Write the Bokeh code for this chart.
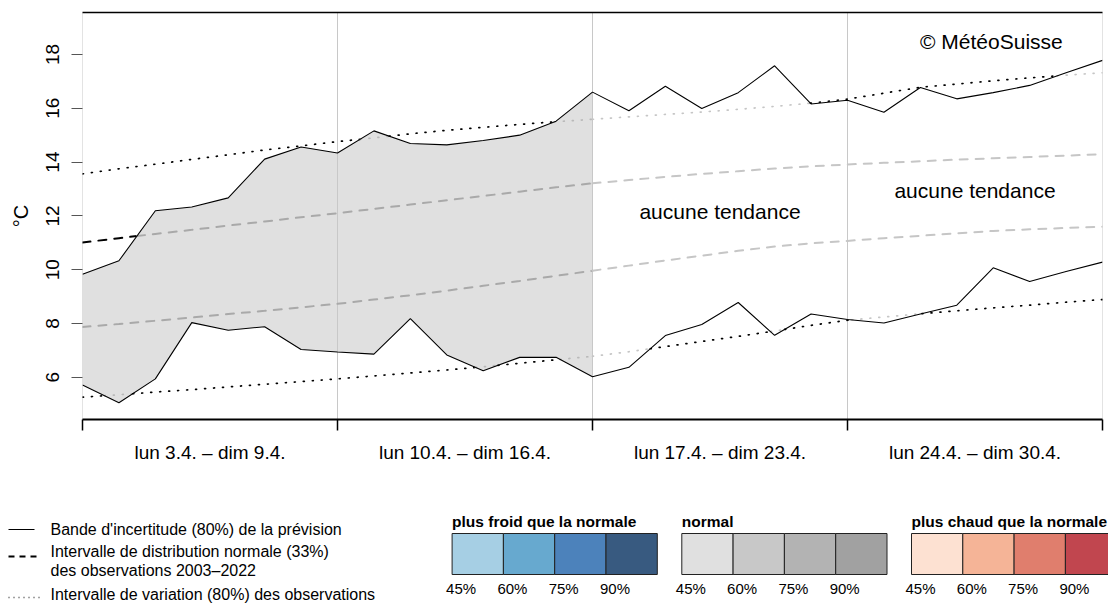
from bokeh.plotting import figure
from bokeh.models import Range1d, FixedTicker, LinearAxis
from bokeh.core.properties import value
from bokeh.embed import file_html
from bokeh.resources import INLINE

FONT = "Liberation Sans"

# ---------------- data ----------------
days = list(range(29))  # 0 = lun 3.4. ... 28 = lun 1.5.
week_labels = ["lun 3.4. – dim 9.4.", "lun 10.4. – dim 16.4.",
               "lun 17.4. – dim 23.4.", "lun 24.4. – dim 30.4."]
y_ticks = [6, 8, 10, 12, 14, 16, 18]

# forecast uncertainty band (80%)
fc_upper = [9.83, 10.33, 12.19, 12.33, 12.67, 14.11, 14.56, 14.34, 15.16, 14.69,
            14.64, 14.80, 15.00, 15.52, 16.60, 15.91, 16.82, 15.99, 16.58, 17.58,
            16.16, 16.30, 15.85, 16.77, 16.35, 16.58, 16.85, 17.32, 17.78]
fc_lower = [5.71, 5.05, 5.94, 8.03, 7.75, 7.88, 7.03, 6.94, 6.86, 8.18,
            6.83, 6.24, 6.74, 6.74, 6.02, 6.37, 7.55, 7.96, 8.78, 7.56,
            8.35, 8.15, 8.02, 8.35, 8.68, 10.07, 9.56, 9.93, 10.28]
# observations 2003-2022: normal range (33%) and variation range (80%)
obs_q67 = [11.01, 11.17, 11.33, 11.48, 11.64, 11.79, 11.95, 12.10, 12.26, 12.42,
           12.58, 12.74, 12.90, 13.06, 13.21, 13.33, 13.45, 13.56, 13.66, 13.76,
           13.84, 13.91, 13.97, 14.03, 14.09, 14.14, 14.19, 14.24, 14.29]
obs_q33 = [7.87, 7.98, 8.10, 8.22, 8.35, 8.47, 8.60, 8.73, 8.89, 9.05,
           9.22, 9.40, 9.58, 9.77, 9.96, 10.15, 10.34, 10.52, 10.70, 10.86,
           10.98, 11.07, 11.17, 11.26, 11.35, 11.44, 11.50, 11.55, 11.60]
obs_q90 = [13.56, 13.75, 13.92, 14.10, 14.27, 14.45, 14.60, 14.76, 14.90, 15.05,
           15.18, 15.29, 15.40, 15.50, 15.59, 15.68, 15.77, 15.86, 15.96, 16.07,
           16.19, 16.34, 16.56, 16.78, 16.90, 17.02, 17.13, 17.23, 17.32]
obs_q10 = [5.26, 5.35, 5.45, 5.54, 5.64, 5.74, 5.84, 5.94, 6.05, 6.16,
           6.27, 6.39, 6.52, 6.65, 6.78, 6.95, 7.14, 7.33, 7.52, 7.72,
           7.93, 8.12, 8.24, 8.36, 8.47, 8.58, 8.68, 8.79, 8.89]
shaded_weeks = 2
tendency_weeks = [2, 3]
tendency_text = "aucune tendance"

legend_titles = ["plus froid que la normale", "normal", "plus chaud que la normale"]
legend_colors = [["#a6cfe4", "#67a9cf", "#4c82bb", "#385a80"],
                 ["#e0e0e0", "#c8c8c8", "#b3b3b3", "#a1a1a1"],
                 ["#fde1d2", "#f5b497", "#e07e6d", "#c1464f"]]
pct_labels = ["45%", "60%", "75%", "90%"]

# ---------------- main chart ----------------
week_starts = days[::7]
week_mid = [(a + b) / 2 for a, b in zip(week_starts[:-1], week_starts[1:])]
shade_end = week_starts[shaded_weeks]

p = figure(width=1108, height=480, x_range=Range1d(0, 28), y_range=Range1d(4.43, 19.56),
           output_backend="svg", toolbar_location=None,
           min_border_left=82, min_border_right=6, min_border_top=12, min_border_bottom=61)
p.outline_line_color = None
p.xgrid.visible = False
p.ygrid.visible = False

p.varea(x=days[:shade_end + 1], y1=fc_lower[:shade_end + 1], y2=fc_upper[:shade_end + 1],
        fill_color="#e0e0e0")
p.vspan(x=week_starts, line_color="#c8c8c8", line_width=1)


def split_curve(c, up, lo):
    """split the polyline c into runs outside / inside the forecast band"""
    runs = []
    for i in range(len(days) - 1):
        ts = [0.0, 1.0]
        for b in (up, lo):
            d0, d1 = c[i] - b[i], c[i + 1] - b[i + 1]
            if d0 * d1 < 0:
                ts.append(d0 / (d0 - d1))
        ts.sort()
        for a, e in zip(ts[:-1], ts[1:]):
            if e - a < 1e-9:
                continue
            tm = (a + e) / 2
            cm = c[i] + (c[i + 1] - c[i]) * tm
            um = up[i] + (up[i + 1] - up[i]) * tm
            lm = lo[i] + (lo[i + 1] - lo[i]) * tm
            xm = days[i] + tm
            if lm < cm < um:
                cls = "in_shaded" if xm < shade_end else "in_plain"
            else:
                cls = "out"
            xa, xe = days[i] + a, days[i] + e
            ya = c[i] + (c[i + 1] - c[i]) * a
            ye = c[i] + (c[i + 1] - c[i]) * e
            if runs and runs[-1][0] == cls:
                runs[-1][1].append(xe)
                runs[-1][2].append(ye)
            else:
                runs.append([cls, [xa, xe], [ya, ye]])
    return runs


styles = {
    "dashed": dict(dash="8 8", width=2.0,
                   colors={"out": "black", "in_shaded": "#a9a9a9", "in_plain": "#c6c6c6"}),
    "dotted": dict(dash="1 8", width=1.7,
                   colors={"out": "black", "in_shaded": "#b9b9b9", "in_plain": "#c6c6c6"}),
}
for curve, kind in [(obs_q67, "dashed"), (obs_q33, "dashed"),
                    (obs_q90, "dotted"), (obs_q10, "dotted")]:
    st = styles[kind]
    for cls, xs, ys in split_curve(curve, fc_upper, fc_lower):
        p.line(xs, ys, line_color=st["colors"][cls], line_width=st["width"],
               line_dash=st["dash"], line_cap="round")

p.line(days, fc_upper, line_color="black", line_width=1.1)
p.line(days, fc_lower, line_color="black", line_width=1.1)

tx = [week_mid[w] for w in tendency_weeks]
p.text(x=tx, y=[12.15, 12.95], text=[tendency_text] * len(tx),
       text_font=value(FONT), text_font_size="21px", text_align="center",
       text_baseline="middle", text_color="black")
p.text(x=[24.95], y=[18.5], text=["© MétéoSuisse"], text_font=value(FONT),
       text_font_size="21px", text_align="center", text_baseline="middle",
       text_color="black")

# x axis: labels in the middle of weeks, ticks at week boundaries
xa = p.xaxis[0]
xa.ticker = FixedTicker(ticks=week_mid, minor_ticks=week_starts)
xa.major_label_overrides = {m: lab for m, lab in zip(week_mid, week_labels)}
xa.major_tick_out = 0
xa.major_tick_in = 0
xa.minor_tick_out = 11
xa.minor_tick_in = 0
xa.minor_tick_line_color = "black"
xa.minor_tick_line_width = 1.5
xa.axis_line_width = 2
xa.axis_line_color = "black"
xa.major_label_text_font = FONT
xa.major_label_text_font_size = "19px"
xa.major_label_text_color = "black"
xa.major_label_standoff = 11

ya = p.yaxis[0]
ya.ticker = FixedTicker(ticks=y_ticks)
ya.major_tick_out = 11
ya.major_tick_in = 0
ya.minor_tick_out = 0
ya.minor_tick_in = 0
ya.axis_line_color = None
ya.major_tick_line_color = "#555555"
ya.major_label_orientation = "vertical"
ya.major_label_text_font = FONT
ya.major_label_text_font_size = "19px"
ya.major_label_text_color = "black"
ya.major_label_standoff = 12
ya.axis_label = "°C"
ya.axis_label_text_font = FONT
ya.axis_label_text_font_size = "20px"
ya.axis_label_text_font_style = "normal"
ya.axis_label_text_color = "black"
ya.axis_label_standoff = 12

top = LinearAxis(ticker=FixedTicker(ticks=[]), axis_line_color="black", axis_line_width=1.5,
                 major_label_text_font_size="0px", major_tick_out=0, major_tick_in=0,
                 minor_tick_out=0, minor_tick_in=0, major_label_standoff=0)
p.add_layout(top, "above")

# ---------------- legend (pixel coordinates of the page) ----------------
q = figure(width=1108, height=123, x_range=Range1d(0, 1108), y_range=Range1d(603, 480),
           output_backend="svg", toolbar_location=None, min_border=0,
           x_axis_type=None, y_axis_type=None)
q.outline_line_color = None
q.xgrid.visible = False
q.ygrid.visible = False

LX0, LX1, LTX = 8, 34, 50
q.line([LX0, LX1], [529, 529], line_color="black", line_width=1.1)
q.line([LX0, LX1 + 3], [556, 556], line_color="black", line_width=2, line_dash="6 5")
q.line([LX0, LX1 + 5], [597, 597], line_color="#444444", line_width=1.5, line_dash="1 4")
q.text(x=[LTX] * 4, y=[529, 551, 570, 594],
       text=["Bande d'incertitude (80%) de la prévision",
             "Intervalle de distribution normale (33%)",
             "des observations 2003–2022",
             "Intervalle de variation (80%) des observations"],
       text_font=value(FONT), text_font_size="16px", text_baseline="middle",
       text_color="black")

GX0, GPITCH, BW, BTOP, BBOT = 451.6, 229.7, 51.3, 533, 574
lefts, rights, cols, lab_x, lab_t = [], [], [], [], []
for g, colors in enumerate(legend_colors):
    for k, c in enumerate(colors):
        l = GX0 + g * GPITCH + k * BW
        lefts.append(l)
        rights.append(l + BW)
        cols.append(c)
        lab_x.append(l + 9)
        lab_t.append(pct_labels[k])
q.quad(left=lefts, right=rights, top=BTOP, bottom=BBOT, fill_color=cols,
       line_color="#222222", line_width=1)
q.text(x=[GX0 + g * GPITCH for g in range(3)], y=[521] * 3, text=legend_titles,
       text_font=value(FONT), text_font_size="15.5px", text_font_style="bold",
       text_baseline="middle", text_color="black")
q.text(x=lab_x, y=[588] * len(lab_x), text=lab_t, text_font=value(FONT),
       text_font_size="15px", text_align="center", text_baseline="middle",
       text_color="black")

open("out.html", "w").write(file_html([p, q], INLINE))
